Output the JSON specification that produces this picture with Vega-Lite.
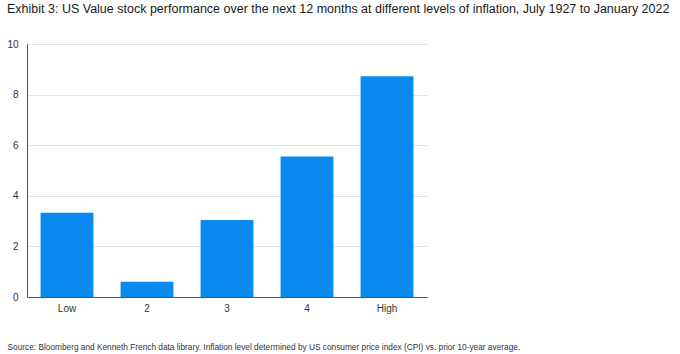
{
  "$schema": "https://vega.github.io/schema/vega-lite/v6.json",
  "autosize": "none",
  "width": 400,
  "height": 253,
  "padding": {"left": 27, "top": 44, "right": 253, "bottom": 57},
  "background": "white",
  "title": {
    "text": "Exhibit 3: US Value stock performance over the next 12 months at different levels of inflation, July 1927 to January 2022",
    "anchor": "start",
    "frame": "group",
    "dx": -20,
    "offset": 24,
    "font": "Liberation Sans",
    "fontSize": 12.5,
    "fontWeight": "normal",
    "color": "#1a1a1a"
  },
  "data": {
    "values": [
      {"level": "Low", "value": 3.33},
      {"level": "2", "value": 0.6},
      {"level": "3", "value": 3.04},
      {"level": "4", "value": 5.55},
      {"level": "High", "value": 8.73}
    ]
  },
  "mark": {"type": "bar", "color": "#0A8AF0"},
  "encoding": {
    "x": {
      "field": "level",
      "type": "nominal",
      "sort": null,
      "scale": {"paddingInner": 0.34, "paddingOuter": 0.17},
      "axis": {
        "title": "Source: Bloomberg and Kenneth French data library. Inflation level determined by US consumer price index (CPI) vs. prior 10-year average.",
        "titleAnchor": "start",
        "titleAlign": "left",
        "titleBaseline": "middle",
        "titleX": -20,
        "titleY": 50,
        "titleFont": "Liberation Sans",
        "titleFontSize": 8.3,
        "titleFontWeight": "normal",
        "titleColor": "#333",
        "labelAngle": 0,
        "labelFont": "Liberation Sans",
        "labelFontSize": 10,
        "labelColor": "#333",
        "labelPadding": 6,
        "ticks": false,
        "domainColor": "#555",
        "domainWidth": 1
      }
    },
    "y": {
      "field": "value",
      "type": "quantitative",
      "scale": {"domain": [0, 10]},
      "axis": {
        "title": null,
        "values": [0, 2, 4, 6, 8, 10],
        "labelFont": "Liberation Sans",
        "labelFontSize": 10,
        "labelColor": "#333",
        "labelPadding": 9,
        "ticks": false,
        "domainColor": "#555",
        "gridColor": "#e3e3e3"
      }
    }
  },
  "config": {"view": {"stroke": null}}
}
